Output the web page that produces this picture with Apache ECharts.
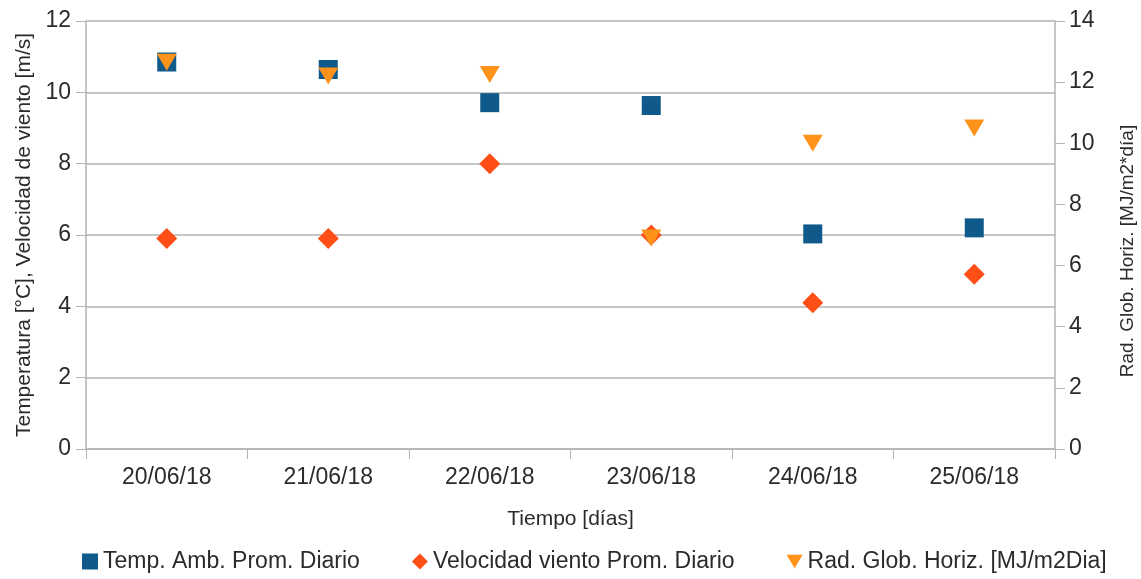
<!DOCTYPE html>
<html>
<head>
<meta charset="utf-8">
<script src="https://cdn.jsdelivr.net/npm/echarts@6/dist/echarts.min.js"></script>
<style>
  html, body { margin: 0; padding: 0; background: #fff; }
  #chart { width: 1141px; height: 579px; }
</style>
</head>
<body>
<div id="chart"></div>
<script>
// categorias (dias)
const fechas = ['20/06/18', '21/06/18', '22/06/18', '23/06/18', '24/06/18', '25/06/18'];
// temperatura ambiente promedio diario [°C]
const tempProm = [10.85, 10.64, 9.71, 9.63, 6.03, 6.2];
// velocidad viento promedio diario [m/s]
const vientoProm = [5.9, 5.9, 8.0, 6.0, 4.1, 4.9];
// radiacion global horizontal [MJ/m2*dia]
const radGlob = [12.65, 12.2, 12.25, 6.9, 10.0, 10.5];

const textColor = '#2b2b2b';
const lineColor = '#b3b3b3';
const font = 'Liberation Sans';
const trianguloAbajo = 'path://M0,0L20,0L10,17Z';

const chart = echarts.init(document.getElementById('chart'));

const option = {
  animation: false,
  textStyle: { fontFamily: font },
  grid: { left: 86, right: 86, top: 21, bottom: 130, outerBoundsMode: 'none', containLabel: false },
  legend: {
    bottom: 1,
    left: 77,
    itemGap: 52,
    itemWidth: 16,
    itemHeight: 16,
    textStyle: { fontSize: 23, color: textColor, fontFamily: font },
    data: [
      { name: 'Temp. Amb. Prom. Diario', icon: 'rect' },
      { name: 'Velocidad viento Prom. Diario', icon: 'diamond' },
      { name: 'Rad. Glob. Horiz. [MJ/m2Dia]', icon: trianguloAbajo }
    ]
  },
  xAxis: {
    type: 'category',
    data: fechas,
    boundaryGap: true,
    name: 'Tiempo [días]',
    nameLocation: 'middle',
    nameGap: 60,
    nameTextStyle: { fontSize: 21, color: textColor },
    axisLine: { lineStyle: { color: lineColor, width: 1.5 } },
    axisTick: { show: true, length: 10, lineStyle: { color: lineColor } },
    axisLabel: { fontSize: 23, color: textColor, margin: 17 },
    splitLine: { show: false }
  },
  yAxis: [
    {
      type: 'value',
      min: 0, max: 12, interval: 2,
      name: 'Temperatura [°C], Velocidad de viento [m/s]',
      nameLocation: 'middle',
      nameGap: 50,
      nameTextStyle: { fontSize: 21, color: textColor },
      axisLine: { show: true, lineStyle: { color: lineColor, width: 1.5 } },
      axisTick: { show: true, length: 10, lineStyle: { color: lineColor } },
      axisLabel: { fontSize: 23, color: textColor, margin: 15 },
      splitLine: { show: true, lineStyle: { color: lineColor, width: 1.5 } }
    },
    {
      type: 'value',
      min: 0, max: 14, interval: 2,
      position: 'right',
      name: 'Rad. Glob. Horiz. [MJ/m2*día]',
      nameLocation: 'middle',
      nameGap: 63,
      nameRotate: 90,
      nameTextStyle: { fontSize: 19, color: textColor, padding: [0, 32, 0, 0] },
      axisLine: { show: true, lineStyle: { color: lineColor, width: 1.5 } },
      axisTick: { show: true, length: 10, lineStyle: { color: lineColor } },
      axisLabel: { fontSize: 23, color: textColor, margin: 14 },
      splitLine: { show: false }
    }
  ],
  series: [
    {
      name: 'Temp. Amb. Prom. Diario',
      type: 'scatter',
      yAxisIndex: 0,
      symbol: 'rect',
      symbolSize: 19,
      itemStyle: { color: '#0f5a8a', opacity: 1 },
      data: tempProm
    },
    {
      name: 'Velocidad viento Prom. Diario',
      type: 'scatter',
      yAxisIndex: 0,
      symbol: 'diamond',
      symbolSize: 21,
      itemStyle: { color: '#ff4f16', opacity: 1 },
      data: vientoProm
    },
    {
      name: 'Rad. Glob. Horiz. [MJ/m2Dia]',
      type: 'scatter',
      yAxisIndex: 1,
      symbol: trianguloAbajo,
      symbolSize: [20, 17],
      itemStyle: { color: '#ff921b', opacity: 1 },
      data: radGlob
    }
  ]
};

chart.setOption(option);
</script>
</body>
</html>
